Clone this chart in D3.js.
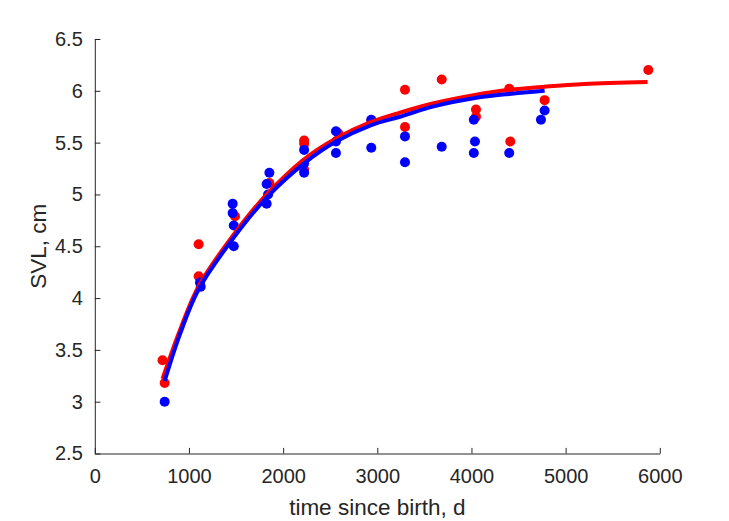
<!DOCTYPE html>
<html><head><meta charset="utf-8">
<script src="https://cdn.jsdelivr.net/npm/d3@7"></script>
<style>
html,body{margin:0;padding:0;background:#fff;}
svg{display:block;}
text{font-family:"Liberation Sans",Arial,Helvetica,sans-serif;fill:#262626;}
</style></head>
<body>
<svg id="chart" width="729" height="521"></svg>
<script>
// ---- data ----
const redT = [719, 742, 1103, 1103, 1489, 1854, 2223, 2223, 2223, 2586, 2936, 3294, 3294, 3684, 4048, 4048, 4401, 4412, 4777, 5878];
const redV = [3.40, 3.18, 4.52, 4.21, 4.79, 5.11, 5.52, 5.49, 5.24, 5.59, 5.71, 6.01, 5.65, 6.11, 5.82, 5.75, 6.02, 5.51, 5.91, 6.20];
const blueT = [742, 1117, 1125, 1464, 1464, 1476, 1476, 1825, 1825, 1840, 1854, 2223, 2223, 2223, 2561, 2561, 2561, 2936, 2936, 3294, 3294, 3684, 4025, 4037, 4025, 4401, 4738, 4777];
const blueV = [3.00, 4.15, 4.11, 4.91, 4.82, 4.70, 4.50, 4.91, 5.10, 5.00, 5.21, 5.43, 5.30, 5.21, 5.61, 5.51, 5.40, 5.72, 5.45, 5.56, 5.31, 5.46, 5.72, 5.51, 5.40, 5.40, 5.72, 5.81];
const redFitT = [719, 900, 1100, 1464, 1825, 2223, 2561, 2936, 3241, 3600, 4037, 4401, 4777, 5200, 5870];
const redFitV = [3.22, 3.68, 4.11, 4.60, 5.00, 5.34, 5.54, 5.70, 5.79, 5.88, 5.96, 6.01, 6.04, 6.066, 6.085];
const blueFitT = [742, 900, 1100, 1464, 1825, 2223, 2561, 2936, 3241, 3600, 4037, 4401, 4777];
const blueFitV = [3.20, 3.64, 4.08, 4.57, 4.97, 5.30, 5.51, 5.67, 5.75, 5.85, 5.93, 5.97, 6.00];
const xTicks = [0, 1000, 2000, 3000, 4000, 5000, 6000];
const yTicks = [2.5, 3, 3.5, 4, 4.5, 5, 5.5, 6, 6.5];
const xLabel = "time since birth, d";
const yLabel = "SVL, cm";

const svg = d3.select("#chart");
const L = 94.8, R = 659.8, T = 39, B = 453.5;
const x = d3.scaleLinear().domain([0, 6000]).range([L, R]);
const y = d3.scaleLinear().domain([2.5, 6.5]).range([B, T]);
const axisColor = "#262626";
const tickFont = 20, labelFont = 22.5;

// points
const zip = (a, b) => a.map((v, i) => [v, b[i]]);
svg.append("g").selectAll("circle").data(zip(redT, redV)).join("circle")
  .attr("cx", d => x(d[0])).attr("cy", d => y(d[1])).attr("r", 5).attr("fill", "#ff0000");
svg.append("g").selectAll("circle").data(zip(blueT, blueV)).join("circle")
  .attr("cx", d => x(d[0])).attr("cy", d => y(d[1])).attr("r", 5).attr("fill", "#0000ff");

// fitted curves
const line = d3.line().x(d => x(d[0])).y(d => y(d[1])).curve(d3.curveCatmullRom.alpha(0.5));
svg.append("path").datum(zip(redFitT, redFitV)).attr("d", line)
  .attr("fill", "none").attr("stroke", "#ff0000").attr("stroke-width", 4);
svg.append("path").datum(zip(blueFitT, blueFitV)).attr("d", line)
  .attr("fill", "none").attr("stroke", "#0000ff").attr("stroke-width", 4);

// axes
const xAxis = d3.axisBottom(x).tickValues(xTicks).tickSize(-5.6).tickPadding(15).tickSizeOuter(0)
  .tickFormat(d3.format("d"));
const gx = svg.append("g").attr("transform", `translate(0,${B})`).call(xAxis);
const yAxis = d3.axisLeft(y).tickValues(yTicks).tickSize(-5.6).tickPadding(12).tickSizeOuter(0)
  .tickFormat(d => String(d));
const gy = svg.append("g").attr("transform", `translate(${L},0)`).call(yAxis);
[gx, gy].forEach(g => {
  g.select(".domain").attr("stroke", axisColor).attr("stroke-width", 1);
  g.selectAll(".tick line").attr("stroke", axisColor).attr("stroke-width", 1);
  g.selectAll(".tick text").attr("font-size", tickFont).attr("fill", axisColor)
    .style("font-family", '"Liberation Sans", Arial, sans-serif');
});

svg.append("text").attr("x", (L + R) / 2).attr("y", 515).attr("text-anchor", "middle")
  .attr("font-size", labelFont).text(xLabel);
svg.append("text").attr("transform", `translate(46,${(T + B) / 2}) rotate(-90)`)
  .attr("text-anchor", "middle").attr("font-size", labelFont).text(yLabel);
</script>
</body></html>
